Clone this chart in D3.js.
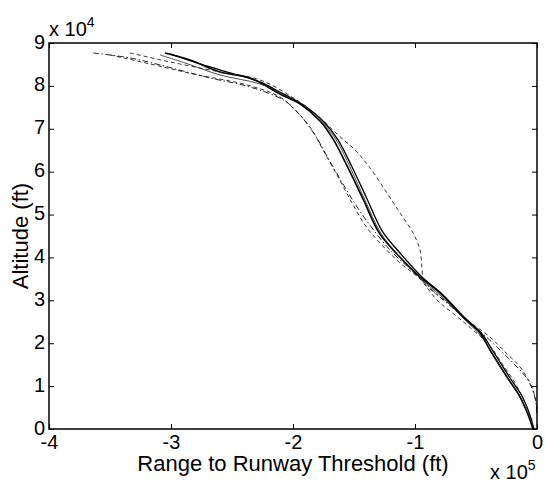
<!DOCTYPE html>
<html>
<head>
<meta charset="utf-8">
<script src="https://cdn.jsdelivr.net/npm/d3@7"></script>
<style>
  body { margin: 0; background: #fff; }
  text { font-family: "Liberation Sans", Arial, sans-serif; fill: #000; }
</style>
</head>
<body>
<div id="chart"></div>
<script>
// tick values (ft)
var xTicks = [-400000, -300000, -200000, -100000, 0];
var yTicks = [0, 10000, 20000, 30000, 40000, 50000, 60000, 70000, 80000, 90000];

// trajectories: [range to threshold (ft), altitude (ft)]
var solidA = [[-304900,87680],[-284400,86050],[-259800,83250],[-235300,81850],[-210700,78120],
  [-194300,75790],[-177900,71830],[-167200,67630],[-155700,61330],[-142600,53640],[-129500,45800],
  [-114800,40810],[-95900,35450],[-79500,31720],[-60700,26120],[-46700,22390],[-38500,18420],
  [-24600,12130],[-14750,7930],[-8200,3960],[-3300,0]];
var solidB = [[-300800,87450],[-276200,85120],[-251600,83020],[-227100,80920],[-206600,77890],
  [-190200,75320],[-174600,71590],[-163100,67390],[-151600,61100],[-139300,53640],[-127000,46200],
  [-112300,41040],[-94300,35450],[-77900,31480],[-59000,25890],[-45100,22150],[-36100,18190],
  [-22100,11890],[-12300,7700],[-6400,3730],[-2500,0]];
var solidC = [[-309000,87220],[-288500,85350],[-259800,82550],[-227100,80450],[-202500,77420],
  [-186100,74390],[-173800,70890],[-163100,66700],[-153300,61100],[-141000,53400],[-128500,45900],
  [-113900,40580],[-95100,34980],[-78700,31020],[-59800,25650],[-45900,21690],[-37700,17960],
  [-23800,11660],[-13900,7500],[-7200,3500],[-2500,0]];
var dashedR = [[-333600,87680],[-300800,85590],[-259800,83250],[-227100,81390],[-198400,76960],
  [-179500,72990],[-163100,68560],[-149200,65060],[-136900,60870],[-123000,55040],[-112300,50370],
  [-101600,45710],[-95900,41740],[-94300,37550],[-92600,34050],[-83600,31720],[-69700,28680],
  [-54900,24950],[-38500,21450],[-26200,17960],[-13900,14460],[-5700,10730],[-1600,7460],[0,4430]];
var dashedL = [[-350000,87220],[-317200,85120],[-282000,82790],[-237700,80220],[-210700,77420],
  [-198400,74390],[-186100,70430],[-175400,65060],[-163100,58770],[-151600,52700],[-141000,47570],
  [-128700,43380],[-112300,38710],[-95900,34980],[-82000,30080],[-67200,26580],[-52500,23090],
  [-38500,19360],[-27900,14920],[-18000,10730],[-9800,6060],[-4100,2100]];
var dashDotL = [[-363900,87680],[-333600,86520],[-309000,84880],[-268000,81850],[-235300,79750],
  [-206600,76490],[-194300,73220],[-182000,68560],[-171300,63200],[-159000,57130],[-147500,51770],
  [-135200,46870],[-120500,41740],[-104100,37310],[-87700,32880],[-73000,29150],[-59000,25890],
  [-45100,22390],[-30300,18420],[-18000,14920],[-7400,11430],[-1600,7230],[0,3260]];

var series = [
  {pts: solidA, w: 1.6, dash: null, c: "#000"},
  {pts: solidB, w: 1.3, dash: null, c: "#000"},
  {pts: solidC, w: 0.8, dash: null, c: "#222"},
  {pts: dashedR, w: 0.9, dash: "4,3", c: "#222"},
  {pts: dashedL, w: 0.9, dash: "4,3", c: "#222"},
  {pts: dashDotL, w: 0.9, dash: "6,2.5,1.5,2.5", c: "#111"}
];

var W = 545, H = 483;
var pLeft = 49, pRight = 537, pTop = 43, pBottom = 429;
var tickFont = "20px", titleFont = "22px";

var svg = d3.select("#chart").append("svg")
  .attr("width", W).attr("height", H);

var x = d3.scaleLinear().domain([-400000, 0]).range([pLeft, pRight]);
var y = d3.scaleLinear().domain([0, 90000]).range([pBottom, pTop]);

// curves
var line = d3.line()
  .x(function(d){ return x(d[0]); })
  .y(function(d){ return y(d[1]); })
  .curve(d3.curveCatmullRom.alpha(0.5));

svg.selectAll(".traj").data(series).enter().append("path")
  .attr("class", "traj")
  .attr("d", function(d){ return line(d.pts); })
  .attr("fill", "none")
  .attr("stroke", function(d){ return d.c; })
  .attr("stroke-width", function(d){ return d.w; })
  .attr("stroke-dasharray", function(d){ return d.dash; });

// ticks, pointing inward on all four sides
function ticksOnly(g) { g.select(".domain").remove(); g.selectAll("line").attr("stroke", "#000"); }

svg.append("g").attr("transform", "translate(0," + pBottom + ")")
  .call(d3.axisBottom(x).tickValues(xTicks).tickSize(-5).tickFormat(function(d){ return d / 100000; }))
  .call(ticksOnly)
  .call(function(g){
    g.selectAll("text").attr("y", 20).attr("dy", null)
      .style("font-size", tickFont).style("font-family", "Liberation Sans, Arial, sans-serif").attr("fill", "#000");
  });
svg.append("g").attr("transform", "translate(0," + pTop + ")")
  .call(d3.axisTop(x).tickValues(xTicks).tickSize(-5).tickFormat(""))
  .call(ticksOnly);
svg.append("g").attr("transform", "translate(" + pLeft + ",0)")
  .call(d3.axisLeft(y).tickValues(yTicks).tickSize(-5).tickFormat(function(d){ return d / 10000; }))
  .call(ticksOnly)
  .call(function(g){
    g.selectAll("text").attr("x", -4).attr("dy", "0.25em")
      .style("font-size", tickFont).style("font-family", "Liberation Sans, Arial, sans-serif").attr("fill", "#000");
  });
svg.append("g").attr("transform", "translate(" + pRight + ",0)")
  .call(d3.axisRight(y).tickValues(yTicks).tickSize(-5).tickFormat(""))
  .call(ticksOnly);

// box
svg.append("rect")
  .attr("x", pLeft).attr("y", pTop)
  .attr("width", pRight - pLeft).attr("height", pBottom - pTop)
  .attr("fill", "none").attr("stroke", "#000").attr("stroke-width", 1.5);

// exponent labels
var e4 = svg.append("text").attr("x", pLeft).attr("y", 36).style("font-size", tickFont);
e4.append("tspan").text("x 10");
e4.append("tspan").attr("dy", -9).style("font-size", "14px").text("4");

var e5 = svg.append("text").attr("x", 490).attr("y", 479).style("font-size", tickFont);
e5.append("tspan").text("x 10");
e5.append("tspan").attr("dy", -9).style("font-size", "14px").text("5");

// axis titles
svg.append("text")
  .attr("x", (pLeft + pRight) / 2).attr("y", 471)
  .attr("text-anchor", "middle").style("font-size", titleFont)
  .text("Range to Runway Threshold (ft)");

svg.append("text")
  .attr("transform", "translate(28," + ((pTop + pBottom) / 2) + ") rotate(-90)")
  .attr("text-anchor", "middle").style("font-size", titleFont)
  .text("Altitude (ft)");
</script>
</body>
</html>
